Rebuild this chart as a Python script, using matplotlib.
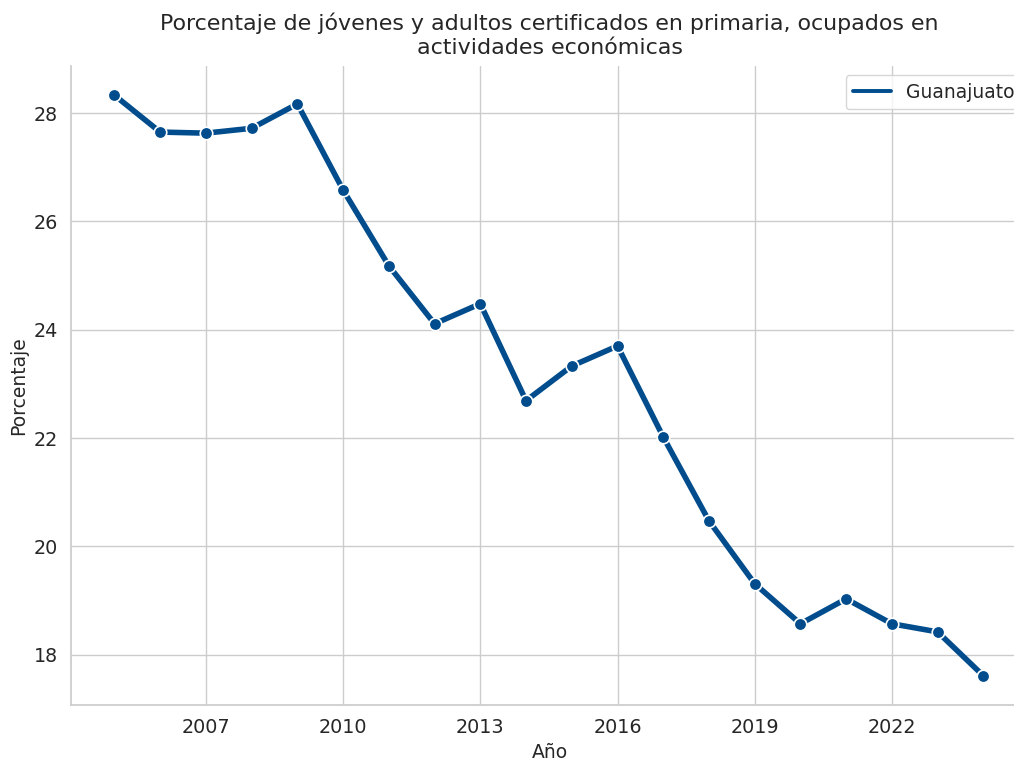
import matplotlib
matplotlib.use("Agg")
import matplotlib.pyplot as plt
import seaborn as sns

years = list(range(2005, 2025))
values = [28.33, 27.65, 27.63, 27.72, 28.17, 26.58, 25.18, 24.11, 24.48, 22.69,
          23.33, 23.70, 22.02, 20.47, 19.31, 18.57, 19.03, 18.57, 18.42, 17.61]
xticks = [2007, 2010, 2013, 2016, 2019, 2022]
yticks = [18, 20, 22, 24, 26, 28]

sns.set_theme(style="whitegrid", font_scale=1.25)
plt.rcParams['font.family'] = ['DejaVu Sans']

fig = plt.figure(figsize=(10.14, 7.61), dpi=100)
ax = fig.add_axes([71/1014, 1 - 705/761, (1014 - 71)/1014, (705 - 66)/761])
color = "#004C8C"
ax.plot(years, values, color=color, linewidth=4, marker="o", markersize=9,
        markeredgecolor="white", markeredgewidth=1.2, label="Guanajuato")
ax.set_xticks(xticks)
ax.set_yticks(yticks)
ax.set_xlim(2004.05, 2024.67)
ax.set_ylim(17.07, 28.87)
xc = (549.5 - 71) / 943
ax.set_xlabel("Año", fontsize=13.5)
ax.xaxis.set_label_coords(xc, -38 / 639)
ax.set_ylabel("Porcentaje", fontsize=13.5)
ax.set_title("Porcentaje de jóvenes y adultos certificados en primaria, ocupados en\nactividades económicas",
             fontsize=15.9, x=xc, pad=9)
for s in ["top", "right"]:
    ax.spines[s].set_visible(False)
leg = ax.legend(loc="upper right", fontsize=13.5, bbox_to_anchor=(1.0 + 17/943, 1.0))
for h in leg.get_lines():
    h.set_linewidth(2.8)
    h.set_marker("")
fig.savefig("out.png", dpi=100)
